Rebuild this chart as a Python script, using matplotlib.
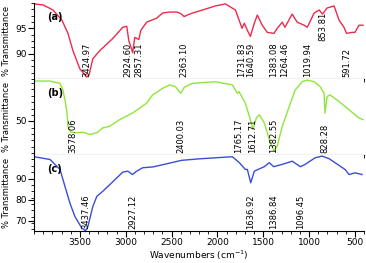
import matplotlib
matplotlib.use("Agg")
import matplotlib.pyplot as plt
from matplotlib.ticker import MultipleLocator, FixedLocator
import matplotlib.transforms as mtransforms

# spectrum (a)
wn_a = [4000, 3902, 3793, 3696, 3630, 3576, 3500, 3425, 3400, 3359, 3283, 3141,
        3033, 2989, 2967, 2924, 2902, 2857, 2835, 2772, 2663, 2598, 2522, 2446,
        2400, 2363, 2330, 2272, 2163, 2022, 1913, 1804, 1732, 1707, 1674, 1641,
        1598, 1565, 1511, 1457, 1383, 1348, 1293, 1264, 1185, 1130, 1054, 1020,
        946, 891, 854, 804, 728, 674, 620, 592, 533, 500, 457, 413]
t_a = [99.8, 99.6, 98.6, 96.6, 94.0, 90.6, 87.0, 85.4, 85.8, 89.0, 90.6, 93.0,
       95.2, 95.4, 92.6, 90.2, 93.2, 92.8, 94.6, 96.2, 97.0, 98.0, 98.2, 98.2,
       97.9, 97.3, 97.6, 98.0, 98.6, 99.4, 99.8, 98.6, 95.0, 96.0, 94.6, 93.4,
       96.0, 97.6, 95.6, 94.2, 94.0, 95.0, 96.2, 95.2, 97.8, 96.2, 95.6, 95.2,
       98.0, 98.6, 97.8, 99.0, 99.4, 96.6, 95.2, 94.0, 94.2, 94.2, 95.6, 95.6]

# spectrum (b)
wn_b = [4000, 3826, 3717, 3685, 3663, 3641, 3630, 3600, 3533, 3467, 3391, 3315,
        3250, 3174, 3065, 2924, 2772, 2707, 2598, 2522, 2460, 2400, 2360, 2272,
        2022, 1837, 1783, 1765, 1696, 1641, 1613, 1576, 1543, 1489, 1435, 1383,
        1348, 1293, 1217, 1152, 1076, 1022, 946, 880, 837, 828, 804, 772, 674,
        565, 457, 413]
t_b = [84.3, 84.3, 82.3, 76.6, 68.0, 56.9, 45.1, 40.0, 39.5, 40.0, 38.0, 39.5,
       43.7, 45.1, 50.9, 56.6, 65.2, 72.3, 78.0, 80.9, 79.5, 73.7, 79.0, 82.3,
       83.7, 80.9, 73.7, 75.1, 65.2, 50.9, 42.3, 52.3, 55.1, 48.0, 33.7, 23.7,
       28.0, 45.1, 62.3, 76.6, 83.7, 85.1, 83.7, 79.4, 73.7, 56.6, 70.8, 72.3,
       66.5, 59.4, 52.3, 50.9]

# spectrum (c)
wn_c = [4000, 3826, 3717, 3663, 3609, 3554, 3478, 3437, 3413, 3359, 3315, 3250,
        3174, 3098, 3033, 2978, 2927, 2880, 2815, 2700, 2500, 2391, 2200, 2022,
        1837, 1761, 1696, 1674, 1637, 1598, 1489, 1435, 1387, 1293, 1185, 1096,
        1043, 935, 859, 783, 674, 609, 565, 500, 424]
t_c = [100.3, 99.0, 94.3, 86.3, 78.4, 72.0, 66.5, 65.4, 67.3, 76.8, 81.6, 84.0,
       87.1, 90.3, 93.0, 93.5, 91.9, 93.5, 95.1, 95.5, 97.5, 98.6, 99.3, 99.8,
       100.3, 97.5, 94.3, 94.3, 88.0, 93.5, 95.6, 97.5, 95.6, 96.7, 98.2, 95.6,
       96.7, 99.8, 100.6, 99.4, 96.2, 94.3, 91.9, 92.7, 91.9]

peaks_a = ["3424.97", "2924.60", "2857.31", "2363.10", "1731.83", "1640.59",
           "1383.08", "1264.46", "1019.94", "853.81", "591.72"]
peaks_b = ["3578.06", "2400.03", "1765.17", "1612.71", "1382.55", "828.28"]
peaks_c = ["3437.46", "2927.12", "1636.92", "1386.84", "1096.45"]

fig = plt.figure(figsize=(3.66, 2.63), dpi=100)
gs = fig.add_gridspec(3, 1, left=0.093, right=0.995, top=0.989, bottom=0.12,
                      hspace=0)
axes = [fig.add_subplot(gs[i]) for i in range(3)]

panels = [
    (wn_a, t_a, "#ee2a4c", (85, 100), [90, 95], peaks_a, "(a)"),
    (wn_b, t_b, "#8fe63a", (20, 86), [50], peaks_b, "(b)"),
    (wn_c, t_c, "#3a4ed4", (65, 101), [70, 80, 90], peaks_c, "(c)"),
]

for ax, (wn, t, col, ylim, yt, peaks, tag) in zip(axes, panels):
    ax.plot(wn, t, color=col, lw=1)
    ax.set_xlim(4000, 400)
    ax.set_ylim(*ylim)
    ax.xaxis.set_major_locator(FixedLocator([3500, 3000, 2500, 2000, 1500, 1000, 500]))
    ax.xaxis.set_minor_locator(MultipleLocator(100))
    ax.yaxis.set_major_locator(FixedLocator(yt))
    ax.yaxis.set_minor_locator(MultipleLocator((ylim[1] - ylim[0]) / 12))
    ax.spines["top"].set_visible(False)
    ax.spines["right"].set_visible(False)
    ax.tick_params(direction="out", length=4, width=0.8, labelsize=6.5, pad=1)
    ax.tick_params(which="minor", direction="out", length=2, width=0.6)
    ax.set_ylabel("% Transmittance", fontsize=6, labelpad=3)
    ax.text(0.04, 0.78, tag, transform=ax.transAxes, fontsize=7,
            fontweight="bold")
    trans = mtransforms.blended_transform_factory(ax.transData, ax.transAxes)
    for p in peaks:
        yb = 0.5 if p == "853.81" else 0.03
        ha = "right" if p == "2924.60" else "center"
        ax.text(float(p), yb, p, transform=trans, rotation=90, fontsize=6,
                ha=ha, va="bottom")
    if ax is not axes[-1]:
        ax.tick_params(labelbottom=False)

axes[-1].set_xlabel("Wavenumbers (cm$^{-1}$)", fontsize=6.5, labelpad=1)

fig.savefig("out.png", dpi=100)
